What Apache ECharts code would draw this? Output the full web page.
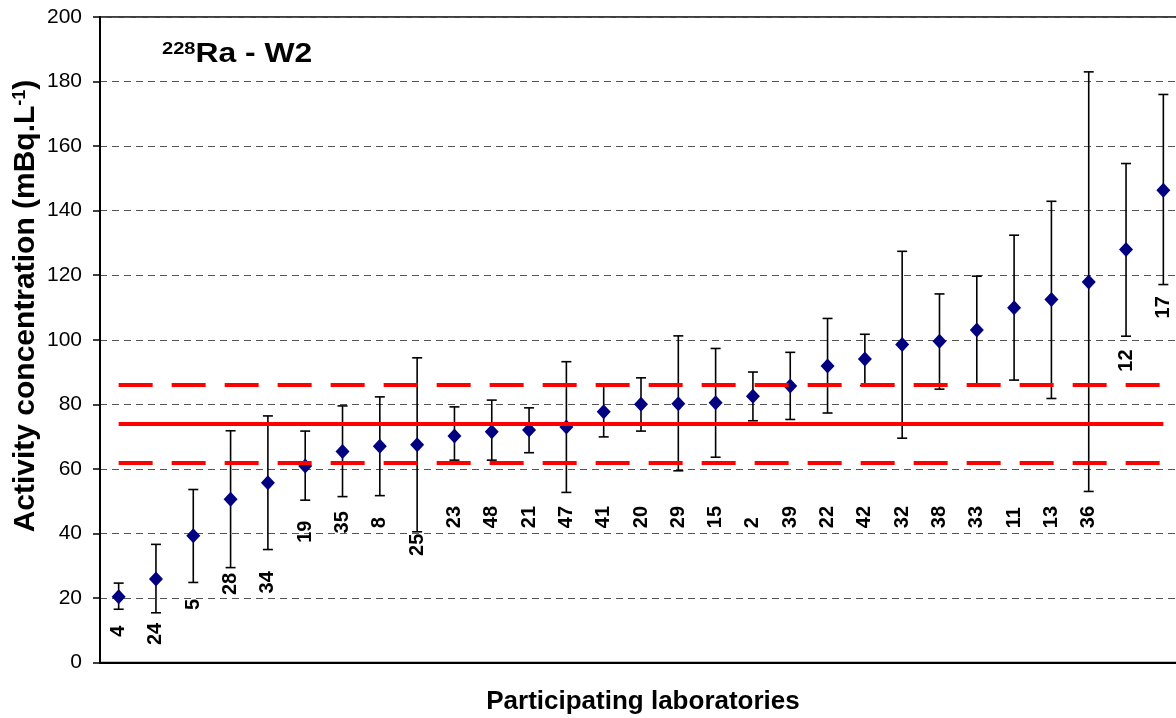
<!DOCTYPE html>
<html>
<head>
<meta charset="utf-8">
<script src="https://cdn.jsdelivr.net/npm/echarts@6/dist/echarts.min.js"></script>
<style>
  html, body { margin: 0; padding: 0; background: #fff; overflow: hidden; }
  /* plot runs a little past the right edge of the picture, as in the source */
  #chart { width: 1190px; height: 718px; }
</style>
</head>
<body>
<div id="chart"></div>
<script>
// laboratory codes, ordered by reported value
const labs = ['4', '24', '5', '28', '34', '19', '35', '8', '25', '23', '48', '21', '47', '41', '20',
  '29', '15', '2', '39', '22', '42', '32', '38', '33', '11', '13', '36', '12', '17'];
// reported activity (mBq/L)
const values = [20.4, 25.9, 39.3, 50.6, 55.7, 60.9, 65.4, 67.0, 67.5, 70.2, 71.5, 72.0, 73.0, 77.7, 80.0,
  80.2, 80.5, 82.5, 85.7, 91.9, 94.0, 98.5, 99.5, 103.0, 109.9, 112.5, 117.9, 128.0, 146.3];
// uncertainty bounds
const upper = [24.6, 36.6, 53.6, 71.8, 76.4, 71.7, 79.5, 82.3, 94.4, 79.2, 81.3, 78.9, 93.2, 85.9, 88.2,
  101.2, 97.3, 90.0, 96.1, 106.6, 101.7, 127.4, 114.2, 119.7, 132.4, 142.9, 183.0, 154.6, 176.0];
const lower = [16.5, 15.4, 24.8, 29.4, 35.0, 50.3, 51.4, 51.7, 40.5, 62.7, 62.7, 65.0, 52.7, 69.9, 71.7,
  59.4, 63.6, 74.9, 75.3, 77.3, 85.8, 69.5, 84.7, 86.0, 87.5, 81.8, 53.0, 101.1, 117.1];
// where each lab code label starts (value units)
const labelAt = [8.0, 5.4, 16.3, 20.9, 21.4, 37.1, 40.0, 41.6, 33.0, 41.6, 41.6, 41.6, 41.6, 41.6, 41.6,
  41.6, 41.6, 41.6, 41.6, 41.6, 41.6, 41.6, 41.6, 41.6, 41.6, 41.6, 41.6, 90.1, 106.6];
// reference value and acceptance limits
const refValue = 74;
const refUpper = 86;
const refLower = 62;
const yTicks = [0, 20, 40, 60, 80, 100, 120, 140, 160, 180, 200];

const FONT = 'Liberation Sans, Arial, sans-serif';
const chart = echarts.init(document.getElementById('chart'));

const first = labs[0];
const last = labs[labs.length - 1];

const option = {
  animation: false,
  grid: {
    left: 100,
    top: 17,
    width: 1082,
    height: 645.5,
    show: true,
    borderColor: '#000',
    borderWidth: 1.5,
    backgroundColor: 'transparent',
  },
  xAxis: {
    type: 'category',
    data: labs,
    boundaryGap: true,
    axisLine: { show: true, lineStyle: { color: '#000', width: 2 } },
    axisTick: { show: false },
    axisLabel: { show: false },
  },
  yAxis: {
    type: 'value',
    min: yTicks[0],
    max: yTicks[yTicks.length - 1],
    interval: 20,
    axisLine: { show: true, lineStyle: { color: '#000', width: 2 } },
    axisTick: { show: true, length: 7, lineStyle: { color: '#000', width: 1.5 } },
    axisLabel: { fontFamily: FONT, fontSize: 21, color: '#000', margin: 18 },
    splitLine: { show: true, lineStyle: { color: '#555', width: 1.2, type: [7, 5] } },
  },
  graphic: [
    {
      type: 'text',
      x: 162,
      y: 41,
      scaleX: 1.18,
      style: {
        text: '{sup|228}{main|Ra - W2}',
        rich: {
          sup: { fontFamily: FONT, fontSize: 17, fontWeight: 'bold', fill: '#000', verticalAlign: 'top' },
          main: { fontFamily: FONT, fontSize: 27, fontWeight: 'bold', fill: '#000' },
        },
      },
    },
    {
      type: 'text',
      x: 26,
      y: 306,
      rotation: Math.PI / 2,
      style: {
        text: '{main|Activity concentration (mBq.L}{sup|-1}{main|)}',
        align: 'center',
        verticalAlign: 'middle',
        rich: {
          main: { fontFamily: FONT, fontSize: 30, fontWeight: 'bold', fill: '#000' },
          sup: { fontFamily: FONT, fontSize: 18, fontWeight: 'bold', fill: '#000', verticalAlign: 'top' },
        },
      },
    },
    {
      type: 'text',
      x: 643,
      y: 702,
      scaleX: 1.04,
      style: {
        text: 'Participating laboratories',
        align: 'center',
        verticalAlign: 'middle',
        fontFamily: FONT,
        fontSize: 25,
        fontWeight: 'bold',
        fill: '#000',
      },
    },
  ],
  series: [
    {
      // reference value and limits
      name: 'reference',
      type: 'line',
      data: [],
      z: 2,
      markLine: {
        silent: true,
        symbol: 'none',
        label: { show: false },
        data: [
          [{ coord: [first, refValue], lineStyle: { color: '#ff0000', width: 4, type: 'solid' } },
            { coord: [last, refValue] }],
          [{ coord: [first, refUpper], lineStyle: { color: '#ff0000', width: 4, type: [34, 19] } },
            { coord: [last, refUpper] }],
          [{ coord: [first, refLower], lineStyle: { color: '#ff0000', width: 4, type: [34, 19] } },
            { coord: [last, refLower] }],
        ],
      },
    },
    {
      // error bars
      name: 'uncertainty',
      type: 'custom',
      z: 3,
      data: labs.map((l, i) => [i, lower[i], upper[i]]),
      encode: { x: 0, y: [1, 2] },
      renderItem: (params, api) => {
        const lo = api.coord([api.value(0), api.value(1)]);
        const hi = api.coord([api.value(0), api.value(2)]);
        const cap = 5;
        const style = { stroke: '#000', lineWidth: 1.6 };
        return {
          type: 'group',
          children: [
            { type: 'line', shape: { x1: lo[0], y1: lo[1], x2: hi[0], y2: hi[1] }, style },
            { type: 'line', shape: { x1: hi[0] - cap, y1: hi[1], x2: hi[0] + cap, y2: hi[1] }, style },
            { type: 'line', shape: { x1: lo[0] - cap, y1: lo[1], x2: lo[0] + cap, y2: lo[1] }, style },
          ],
        };
      },
    },
    {
      // reported values
      name: 'value',
      type: 'scatter',
      z: 4,
      symbol: 'diamond',
      symbolSize: [14, 15],
      itemStyle: { color: '#000080', opacity: 1 },
      data: values,
    },
    {
      // lab code labels
      name: 'labels',
      type: 'scatter',
      z: 5,
      symbolSize: 0,
      itemStyle: { opacity: 1 },
      data: labelAt,
      label: {
        show: true,
        position: 'inside',
        rotate: 90,
        align: 'left',
        verticalAlign: 'middle',
        fontFamily: FONT,
        fontSize: 20,
        fontWeight: 'bold',
        color: '#000',
        opacity: 1,
        textBorderWidth: 0,
        formatter: (p) => labs[p.dataIndex],
      },
    },
  ],
};

chart.setOption(option);
</script>
</body>
</html>
